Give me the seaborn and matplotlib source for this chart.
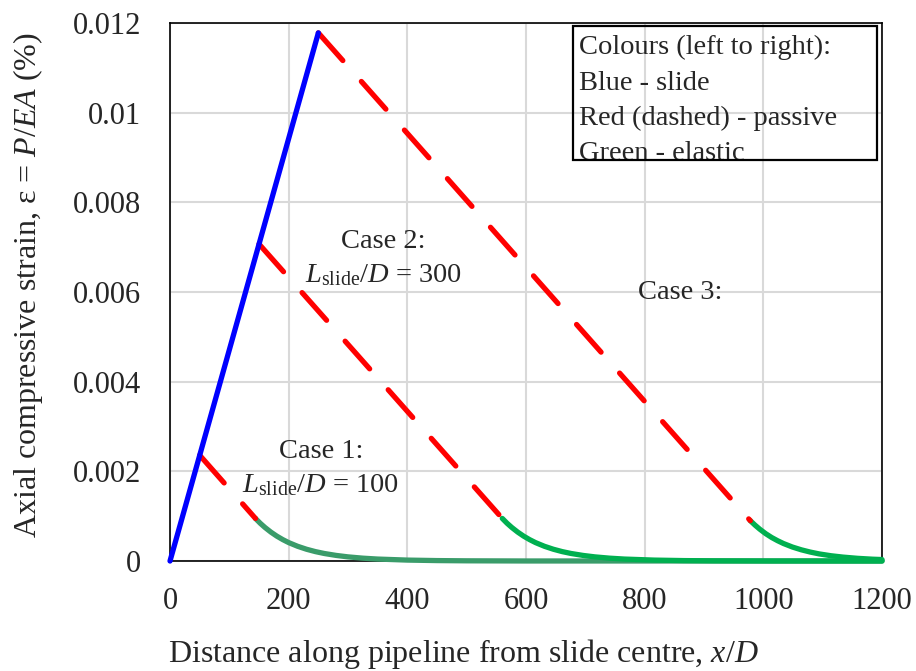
import matplotlib
matplotlib.use('Agg')
import matplotlib.pyplot as plt
from matplotlib.patches import Rectangle
from matplotlib.ticker import FuncFormatter
import seaborn as sns

# slide zone (blue), shared by all cases
slide_x = [0, 250]
slide_y = [0, 0.01178]

# passive zone (red dashed)
case1_passive_x = [50, 144]
case1_passive_y = [0.00236, 0.00095]
case2_passive_x = [150, 560]
case2_passive_y = [0.00707, 0.00095]
case3_passive_x = [250, 978]
case3_passive_y = [0.01178, 0.00090]

# elastic zone (green)
elastic_y = [0.00095, 0.000843, 0.000749, 0.000645, 0.000555, 0.000478, 0.000411,
             0.000329, 0.000263, 0.00021, 0.000168, 0.000125, 0.0000926, 0.0000637,
             0.0000437, 0.0000208, 0.0000099, 0.0000047, 0.000001, 0]
case1_elastic_x = [144, 152, 160, 170, 180, 190, 200, 215, 230, 245, 260, 280, 300,
                   325, 350, 400, 450, 500, 600, 1200]
case2_elastic_x = [560, 568, 576, 586, 596, 606, 616, 631, 646, 661, 676, 696, 716,
                   741, 766, 816, 866, 916, 1016, 1200]
case3_elastic_x = [978, 986, 994, 1004, 1014, 1024, 1034, 1049, 1064, 1079, 1094,
                   1114, 1134, 1159, 1184, 1200]
case3_elastic_y = [0.0009, 0.0008, 0.00071, 0.00061, 0.000525, 0.000453, 0.00039,
                   0.000312, 0.00025, 0.0002, 0.000159, 0.000118, 0.000088, 0.00006,
                   0.000041, 0.000033]

x_ticks = [0, 200, 400, 600, 800, 1000, 1200]
y_ticks = [0, 0.002, 0.004, 0.006, 0.008, 0.01, 0.012]

legend_lines = ['Colours (left to right):', 'Blue - slide',
                'Red (dashed) - passive', 'Green - elastic']

sns.set_theme(style='white')
plt.rcParams['font.family'] = ['Liberation Serif', 'DejaVu Serif']
plt.rcParams['mathtext.fontset'] = 'custom'
plt.rcParams['mathtext.rm'] = 'Liberation Serif'
plt.rcParams['mathtext.it'] = 'Liberation Serif:italic'

fig = plt.figure(figsize=(9.16, 6.71), dpi=100)
ax = fig.add_axes([0.1856, 0.1639, 0.7773, 0.8018])

lw = 3.8
blue = '#0000ff'
red = '#ff0000'
green1 = '#3a9c6a'
green = '#00b050'

line_kw = dict(linewidth=lw, estimator=None, sort=False, ax=ax, clip_on=False)

sns.lineplot(x=case1_elastic_x, y=elastic_y[:len(case1_elastic_x)], color=green1,
             solid_capstyle='round', zorder=3, **line_kw)
sns.lineplot(x=case2_elastic_x, y=elastic_y[:len(case2_elastic_x)], color=green,
             solid_capstyle='round', zorder=4, **line_kw)
sns.lineplot(x=case3_elastic_x, y=case3_elastic_y, color=green,
             solid_capstyle='round', zorder=4, **line_kw)

for px, py in [(case1_passive_x, case1_passive_y),
               (case2_passive_x, case2_passive_y),
               (case3_passive_x, case3_passive_y)]:
    sns.lineplot(x=px, y=py, color=red, linestyle=(0, (7, 5.3)),
                 dash_capstyle='round', zorder=5, **line_kw)

sns.lineplot(x=slide_x, y=slide_y, color=blue, solid_capstyle='round', zorder=6, **line_kw)

ax.set_xlim(0, 1200)
ax.set_ylim(0, 0.012)
ax.set_xticks(x_ticks)
ax.set_yticks(y_ticks)
ax.yaxis.set_major_formatter(FuncFormatter(lambda v, p: '0' if v == 0 else f'{v:g}'))

ax.grid(True, color='#d9d9d9', linewidth=1.5, zorder=0)
ax.set_axisbelow(True)
for s in ax.spines.values():
    s.set_color('black')
    s.set_linewidth(1.2)
ax.tick_params(axis='both', direction='in', length=6.5, width=1.2, color='#404040',
               labelsize=22)
ax.tick_params(axis='y', pad=21)
ax.tick_params(axis='x', pad=19)

ax.set_xlabel('Distance along pipeline from slide centre, $x$/$D$', fontsize=23,
              labelpad=15, x=0.4115)
ax.set_ylabel('Axial compressive strain, ε = $P$/$EA$ (%)', fontsize=23,
              labelpad=20, y=0.513)

ann = dict(fontsize=20.5, ha='center', va='baseline')
ax.text(360, 0.00698, 'Case 2:', **ann)
ax.text(359, 0.00622, r'$L_{\mathrm{slide}}$/$D$ = 300', **ann)
ax.text(860, 0.00584, 'Case 3:', **ann)
ax.text(254, 0.00230, 'Case 1:', **ann)
ax.text(253, 0.00154, r'$L_{\mathrm{slide}}$/$D$ = 100', **ann)

# note box in the top right corner
ax.add_patch(Rectangle((0.566, 0.7454), 0.427, 0.249, transform=ax.transAxes,
                       fill=False, edgecolor='black', linewidth=1.6,
                       clip_on=False, zorder=11))
for line, yb in zip(legend_lines, [0.9424, 0.8755, 0.8104, 0.7454]):
    ax.text(0.5744, yb, line, transform=ax.transAxes, fontsize=20.5,
            ha='left', va='baseline', zorder=10)

fig.savefig('out.png', dpi=100)
